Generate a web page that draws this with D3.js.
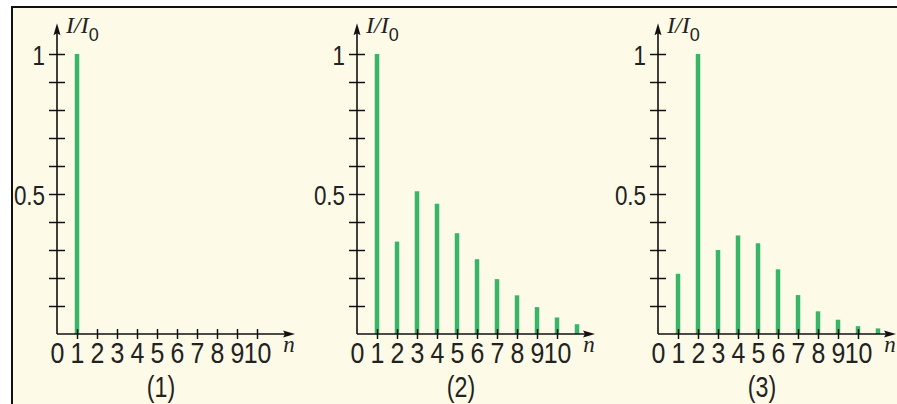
<!DOCTYPE html>
<html>
<head>
<meta charset="utf-8">
<script src="https://cdn.jsdelivr.net/npm/d3@7"></script>
<style>
  html, body { margin: 0; padding: 0; background: #ffffff; }
  svg { display: block; }
  .tick text { font-family: "Liberation Sans", sans-serif; fill: #222; }
</style>
</head>
<body>
<div id="chart"></div>
<script>
// data
var orders = [1, 2, 3, 4, 5, 6, 7, 8, 9, 10, 11];
var series1 = [1.0, 0, 0, 0, 0, 0, 0, 0, 0, 0, 0];
var series2 = [1.0, 0.33, 0.51, 0.465, 0.36, 0.267, 0.196, 0.138, 0.096, 0.059, 0.035];
var series3 = [0.215, 1.0, 0.30, 0.352, 0.324, 0.231, 0.139, 0.081, 0.051, 0.028, 0.02];
var captions = ["(1)", "(2)", "(3)"];
var xTicks = [0, 1, 2, 3, 4, 5, 6, 7, 8, 9, 10];
var yTicks = [0.1, 0.2, 0.3, 0.4, 0.5, 0.6, 0.7, 0.8, 0.9, 1.0];
var yLabels = { "0.5": "0.5", "1": "1" };

var W = 897, H = 404;
var panelLeft = [57, 357, 658];
var sx = 0.8; // squeeze digits like the narrow font of the original

var svg = d3.select("#chart").append("svg")
  .attr("width", W)
  .attr("height", H);

// frame
svg.append("rect")
  .attr("x", 12).attr("y", 7)
  .attr("width", W - 12).attr("height", H - 7)
  .attr("fill", "#fdfbe7");
svg.append("path")
  .attr("d", "M12," + H + "V7H" + W)
  .attr("fill", "none")
  .attr("stroke", "#111")
  .attr("stroke-width", 2);

// shared scales (per panel offset by a translate)
var x = d3.scaleLinear().domain([0, 10]).range([0, 200]);
var y = d3.scaleLinear().domain([0, 1]).range([334, 54]);

[series1, series2, series3].forEach(function (series, i) {
  var g = svg.append("g")
    .attr("transform", "translate(" + panelLeft[i] + ",0)");

  // bars (thin vertical lines)
  g.selectAll("line.bar")
    .data(orders.map(function (n, k) { return { n: n, v: series[k] }; })
      .filter(function (d) { return d.v > 0; }))
    .enter().append("line")
    .attr("class", "bar")
    .attr("x1", function (d) { return x(d.n); })
    .attr("x2", function (d) { return x(d.n); })
    .attr("y1", y(0))
    .attr("y2", function (d) { return y(d.v); })
    .attr("stroke", "#38b566")
    .attr("stroke-width", 4.5);

  // y axis: ticks crossing the axis line
  var yAxisL = g.append("g")
    .call(d3.axisLeft(y).tickValues(yTicks).tickSize(8).tickPadding(4)
      .tickFormat(function (d) { return yLabels[String(+d.toFixed(1))] || ""; }));
  yAxisL.select(".domain").remove();
  yAxisL.selectAll("text")
    .attr("font-size", 28)
    .attr("x", -12 / sx)
    .attr("dy", "0.36em")
    .attr("transform", "scale(" + sx + ",1)");
  var yAxisR = g.append("g")
    .call(d3.axisRight(y).tickValues(yTicks).tickSize(8).tickFormat(""));
  yAxisR.select(".domain").remove();

  // x axis
  var xAxisB = g.append("g")
    .attr("transform", "translate(0," + y(0) + ")")
    .call(d3.axisBottom(x).tickValues(xTicks).tickSize(5).tickPadding(3)
      .tickFormat(d3.format("d")));
  xAxisB.select(".domain").remove();
  xAxisB.selectAll(".tick line").filter(function (d) { return d === 0; }).remove();
  xAxisB.selectAll("text")
    .attr("font-size", 29)
    .attr("transform", "scale(0.86,1)");
  var xAxisT = g.append("g")
    .attr("transform", "translate(0," + y(0) + ")")
    .call(d3.axisTop(x).tickValues(xTicks.slice(1)).tickSize(5).tickFormat(""));
  xAxisT.select(".domain").remove();
  g.selectAll(".tick line").attr("stroke", "#111").attr("stroke-width", 1.5);

  // axis lines with arrow heads
  var xEnd = x(11.9), yTop = y(1.11);
  g.append("line")
    .attr("x1", 0).attr("x2", xEnd - 6)
    .attr("y1", y(0)).attr("y2", y(0))
    .attr("stroke", "#111").attr("stroke-width", 1.6);
  g.append("path")
    .attr("d", "M" + xEnd + "," + y(0) + "l-12,-3.5l2,3.5l-2,3.5z")
    .attr("fill", "#111");
  g.append("line")
    .attr("x1", 0).attr("x2", 0)
    .attr("y1", y(0)).attr("y2", yTop + 6)
    .attr("stroke", "#111").attr("stroke-width", 1.6);
  g.append("path")
    .attr("d", "M0," + yTop + "l-3.5,12l3.5,-2l3.5,2z")
    .attr("fill", "#111");

  // axis titles
  var t = g.append("text")
    .attr("x", 9).attr("y", 33)
    .attr("font-family", "Liberation Serif, serif")
    .attr("font-style", "italic")
    .attr("font-size", 24)
    .attr("fill", "#222");
  t.append("tspan").text("I/I");
  t.append("tspan")
    .attr("dy", 8)
    .attr("font-size", 18)
    .attr("font-style", "normal")
    .attr("font-family", "Liberation Sans, sans-serif")
    .text("0");

  g.append("text")
    .attr("x", 232).attr("y", 352)
    .attr("text-anchor", "middle")
    .attr("font-family", "Liberation Serif, serif")
    .attr("font-style", "italic")
    .attr("font-size", 23)
    .attr("fill", "#222")
    .text("n");

  // caption under each panel
  g.append("text")
    .attr("transform", "translate(" + x(5.2) + ",397) scale(" + sx + ",1)")
    .attr("text-anchor", "middle")
    .attr("font-family", "Liberation Sans, sans-serif")
    .attr("font-size", 29)
    .attr("fill", "#222")
    .text(captions[i]);
});
</script>
</body>
</html>
